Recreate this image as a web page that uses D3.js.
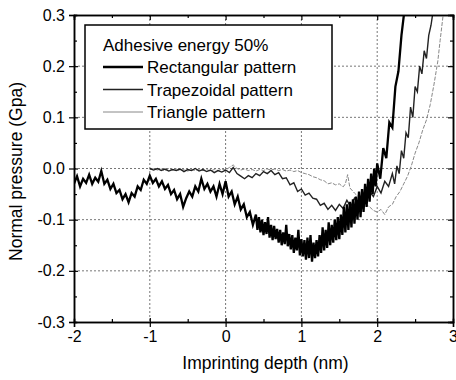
<!DOCTYPE html>
<html>
<head>
<meta charset="utf-8">
<script src="https://cdn.jsdelivr.net/npm/d3@7"></script>
<style>
body { margin: 0; background: #fff; }
svg { display: block; font-family: "Liberation Sans", Arial, sans-serif; }
</style>
</head>
<body>
<svg id="graph" width="456" height="380"></svg>
<script>
// values: [depth (nm), pressure (Gpa)]
var rectData = [
	[-2.00,-0.030],[-1.96,-0.015],[-1.92,-0.035],[-1.88,-0.020],[-1.84,-0.028],[-1.80,-0.012],
	[-1.76,-0.030],[-1.72,-0.018],[-1.68,-0.026],[-1.64,-0.005],[-1.60,-0.030],[-1.56,-0.022],
	[-1.52,-0.040],[-1.48,-0.030],[-1.44,-0.048],[-1.40,-0.042],[-1.36,-0.060],[-1.32,-0.050],
	[-1.28,-0.066],[-1.24,-0.048],[-1.20,-0.055],[-1.16,-0.035],[-1.12,-0.042],[-1.08,-0.022],
	[-1.04,-0.030],[-1.00,-0.014],[-0.96,-0.028],[-0.92,-0.020],[-0.88,-0.035],[-0.84,-0.025],
	[-0.80,-0.040],[-0.76,-0.032],[-0.72,-0.050],[-0.68,-0.042],[-0.64,-0.060],[-0.60,-0.050],
	[-0.56,-0.075],[-0.52,-0.058],[-0.48,-0.045],[-0.44,-0.055],[-0.40,-0.035],[-0.36,-0.045],
	[-0.32,-0.020],[-0.28,-0.040],[-0.24,-0.030],[-0.20,-0.045],[-0.16,-0.035],[-0.12,-0.055],
	[-0.08,-0.030],[-0.04,-0.050],[0.00,-0.025],[0.04,-0.055],[0.08,-0.045],[0.12,-0.070],
	[0.16,-0.055],[0.20,-0.080],[0.24,-0.070],[0.28,-0.095],[0.32,-0.085],[0.36,-0.110],
	[0.40,-0.090],[0.42,-0.120],[0.44,-0.095],[0.46,-0.125],[0.48,-0.100],[0.50,-0.130],
	[0.52,-0.105],[0.54,-0.128],[0.56,-0.095],[0.58,-0.135],[0.60,-0.110],[0.62,-0.140],
	[0.64,-0.112],[0.66,-0.138],[0.68,-0.118],[0.70,-0.145],[0.72,-0.120],[0.74,-0.150],
	[0.76,-0.125],[0.78,-0.148],[0.80,-0.110],[0.82,-0.152],[0.84,-0.128],[0.86,-0.158],
	[0.88,-0.130],[0.90,-0.165],[0.92,-0.135],[0.94,-0.160],[0.96,-0.120],[0.98,-0.170],
	[1.00,-0.138],[1.02,-0.172],[1.04,-0.140],[1.06,-0.178],[1.08,-0.135],[1.10,-0.175],
	[1.12,-0.130],[1.14,-0.182],[1.16,-0.145],[1.18,-0.175],[1.20,-0.140],[1.22,-0.172],
	[1.24,-0.130],[1.26,-0.165],[1.28,-0.115],[1.30,-0.160],[1.32,-0.120],[1.34,-0.155],
	[1.36,-0.105],[1.38,-0.150],[1.40,-0.110],[1.42,-0.145],[1.44,-0.100],[1.46,-0.140],
	[1.48,-0.095],[1.50,-0.138],[1.52,-0.090],[1.54,-0.130],[1.56,-0.075],[1.58,-0.125],
	[1.60,-0.070],[1.62,-0.120],[1.64,-0.065],[1.66,-0.115],[1.68,-0.060],[1.70,-0.108],
	[1.72,-0.055],[1.74,-0.100],[1.76,-0.045],[1.78,-0.095],[1.80,-0.040],[1.82,-0.085],
	[1.84,-0.030],[1.86,-0.075],[1.88,-0.020],[1.90,-0.065],[1.92,-0.010],[1.94,-0.050],
	[1.96,0.000],[1.98,-0.035],[2.00,0.010],[2.04,-0.020],[2.08,0.040],[2.12,0.020],
	[2.16,0.090],[2.20,0.080],[2.24,0.160],[2.28,0.190],[2.32,0.260],[2.36,0.310]
];

var trapData = [
	[-1.00,0.000],[-0.95,-0.003],[-0.90,0.000],[-0.85,-0.004],[-0.80,-0.001],[-0.75,-0.005],
	[-0.70,-0.002],[-0.65,-0.004],[-0.60,-0.001],[-0.55,-0.006],[-0.50,-0.002],[-0.45,-0.004],
	[-0.40,0.000],[-0.35,-0.005],[-0.30,-0.002],[-0.25,-0.006],[-0.20,-0.003],[-0.15,-0.008],
	[-0.10,-0.004],[-0.05,-0.007],[0.00,-0.003],[0.05,-0.008],[0.10,0.002],[0.15,-0.010],
	[0.20,-0.015],[0.25,-0.020],[0.30,-0.014],[0.35,-0.018],[0.40,-0.010],[0.45,-0.014],
	[0.50,-0.006],[0.55,-0.010],[0.60,-0.004],[0.65,-0.012],[0.70,-0.008],[0.75,-0.020],
	[0.80,-0.018],[0.85,-0.032],[0.90,-0.028],[0.95,-0.045],[1.00,-0.040],[1.05,-0.052],
	[1.10,-0.048],[1.15,-0.058],[1.20,-0.060],[1.25,-0.072],[1.30,-0.068],[1.35,-0.080],
	[1.40,-0.072],[1.45,-0.082],[1.50,-0.070],[1.55,-0.078],[1.60,-0.062],[1.65,-0.075],
	[1.70,-0.058],[1.75,-0.068],[1.80,-0.050],[1.85,-0.062],[1.90,-0.045],[1.95,-0.055],
	[2.00,-0.035],[2.05,-0.048],[2.10,-0.025],[2.15,-0.035],[2.20,-0.010],[2.23,-0.030],
	[2.26,0.005],[2.29,-0.010],[2.32,0.035],[2.35,0.020],[2.38,0.070],[2.41,0.060],
	[2.44,0.120],[2.47,0.100],[2.50,0.160],[2.53,0.150],[2.56,0.200],[2.59,0.185],
	[2.62,0.230],[2.65,0.215],[2.68,0.260],[2.71,0.280],[2.74,0.310]
];

var triData = [
	[-1.00,-0.002],[-0.95,0.000],[-0.90,-0.003],[-0.85,-0.001],[-0.80,-0.004],[-0.75,0.000],
	[-0.70,-0.003],[-0.65,-0.001],[-0.60,-0.004],[-0.55,-0.002],[-0.50,-0.005],[-0.45,-0.002],
	[-0.40,-0.004],[-0.35,-0.001],[-0.30,-0.004],[-0.25,-0.002],[-0.20,-0.005],[-0.15,-0.002],
	[-0.10,-0.004],[-0.05,-0.001],[0.00,-0.003],[0.05,0.002],[0.10,0.007],[0.15,0.000],
	[0.20,-0.003],[0.25,-0.001],[0.30,-0.004],[0.35,-0.002],[0.40,-0.005],[0.45,-0.002],
	[0.50,-0.004],[0.55,-0.001],[0.60,-0.003],[0.65,-0.001],[0.70,-0.004],[0.75,-0.002],
	[0.80,-0.005],[0.85,-0.003],[0.90,-0.006],[0.95,-0.004],[1.00,-0.008],[1.05,-0.010],
	[1.10,-0.012],[1.15,-0.016],[1.20,-0.018],[1.25,-0.022],[1.30,-0.024],[1.35,-0.030],
	[1.40,-0.028],[1.45,-0.032],[1.50,-0.030],[1.55,-0.036],[1.58,-0.030],[1.61,-0.012],
	[1.64,-0.038],[1.70,-0.048],[1.75,-0.055],[1.80,-0.062],[1.85,-0.070],[1.90,-0.075],
	[1.95,-0.082],[2.00,-0.085],[2.05,-0.080],[2.10,-0.090],[2.15,-0.075],[2.20,-0.070],
	[2.25,-0.055],[2.30,-0.045],[2.35,-0.030],[2.40,-0.015],[2.45,0.005],[2.50,0.030],
	[2.55,0.050],[2.60,0.075],[2.65,0.095],[2.70,0.125],[2.75,0.165],[2.80,0.210],
	[2.83,0.250],[2.87,0.300]
];

var xTicks = [-2, -1, 0, 1, 2, 3];
var xMinor = [-1.5, -0.5, 0.5, 1.5, 2.5];
var yTicks = [-0.3, -0.2, -0.1, 0.0, 0.1, 0.2, 0.3];
var yMinor = [-0.25, -0.15, -0.05, 0.05, 0.15, 0.25];
var seriesNames = ["Rectangular pattern", "Trapezoidal pattern", "Triangle pattern"];
var legendTitle = "Adhesive energy 50%";

function drawChart() {
	var graph = d3.select("#graph");
	var left = 74, right = 453, plotTop = 15, bottom = 322;

	var x = d3.scaleLinear()
		.domain([-2, 3])
		.range([left, right]);
	var y = d3.scaleLinear()
		.domain([-0.3, 0.3])
		.range([bottom, plotTop]);

	// dotted grid
	graph.append("g").selectAll("line")
		.data([-1, 0, 1, 2])
		.enter().append("line")
		.attr("x1", function(d) { return x(d); })
		.attr("x2", function(d) { return x(d); })
		.attr("y1", plotTop).attr("y2", bottom)
		.attr("stroke", "#777").attr("stroke-width", 1)
		.attr("stroke-dasharray", "2,2");
	graph.append("g").selectAll("line")
		.data([-0.2, -0.1, 0.0, 0.1, 0.2])
		.enter().append("line")
		.attr("y1", function(d) { return y(d); })
		.attr("y2", function(d) { return y(d); })
		.attr("x1", left).attr("x2", right)
		.attr("stroke", "#777").attr("stroke-width", 1)
		.attr("stroke-dasharray", "2,2");

	graph.append("clipPath").attr("id", "clip")
		.append("rect")
		.attr("x", left).attr("y", plotTop)
		.attr("width", right - left).attr("height", bottom - plotTop);

	var line = d3.line()
		.x(function(d) { return x(d[0]); })
		.y(function(d) { return y(d[1]); });

	var plots = graph.append("g").attr("clip-path", "url(#clip)");
	plots.append("path")
		.attr("d", line(triData))
		.attr("stroke", "#888").attr("stroke-width", 1)
		.attr("stroke-dasharray", "4,1.5")
		.attr("fill", "none");
	plots.append("path")
		.attr("d", line(trapData))
		.attr("stroke", "#222").attr("stroke-width", 1.4)
		.attr("fill", "none");
	plots.append("path")
		.attr("d", line(rectData))
		.attr("stroke", "#000").attr("stroke-width", 2.3)
		.attr("fill", "none");

	// plain hyphen minus like the original
	var fmtX = function(d) { return String(d3.format("d")(d)).replace("\u2212", "-"); };
	var fmtY = function(d) { return String(d3.format(".1f")(d)).replace("\u2212", "-"); };

	var axis;
	axis = d3.axisBottom(x).tickValues(xTicks).tickSize(5).tickPadding(4).tickFormat(fmtX);
	var gx = graph.append("g")
		.attr("transform", "translate(0," + bottom + ")")
		.call(axis);
	gx.selectAll(".tick line").attr("y1", -4);
	graph.append("g")
		.attr("transform", "translate(0," + bottom + ")")
		.call(d3.axisBottom(x).tickValues(xMinor).tickSize(-3).tickFormat(""));

	axis = d3.axisLeft(y).tickValues(yTicks).tickSize(5).tickPadding(4).tickFormat(fmtY);
	var gy = graph.append("g")
		.attr("transform", "translate(" + left + ",0)")
		.call(axis);
	gy.selectAll(".tick line").attr("x1", 4);
	graph.append("g")
		.attr("transform", "translate(" + left + ",0)")
		.call(d3.axisLeft(y).tickValues(yMinor).tickSize(-3).tickFormat(""));

	graph.append("g")
		.attr("transform", "translate(0," + plotTop + ")")
		.call(d3.axisTop(x).tickValues(xTicks).tickSize(-5).tickFormat(""));
	graph.append("g")
		.attr("transform", "translate(0," + plotTop + ")")
		.call(d3.axisTop(x).tickValues(xMinor).tickSize(-3).tickFormat(""));
	graph.append("g")
		.attr("transform", "translate(" + right + ",0)")
		.call(d3.axisRight(y).tickValues(yTicks).tickSize(-5).tickFormat(""));
	graph.append("g")
		.attr("transform", "translate(" + right + ",0)")
		.call(d3.axisRight(y).tickValues(yMinor).tickSize(-3).tickFormat(""));

	graph.selectAll(".domain").attr("stroke", "#000").attr("stroke-width", 1.5);
	graph.selectAll(".tick line").attr("stroke", "#000").attr("stroke-width", 1.2);
	graph.selectAll(".tick text")
		.attr("fill", "#000")
		.style("font-size", "16px")
		.style("font-family", "'Liberation Sans', Arial, sans-serif");

	// axis titles
	graph.append("text")
		.attr("x", (left + right) / 2 + 2)
		.attr("y", 369)
		.attr("text-anchor", "middle")
		.style("font-size", "17.5px")
		.text("Imprinting depth (nm)");
	graph.append("text")
		.attr("transform", "translate(22," + ((plotTop + bottom) / 2 + 3) + ") rotate(-90)")
		.attr("text-anchor", "middle")
		.style("font-size", "17.5px")
		.text("Normal pressure (Gpa)");

	// legend
	var legend = graph.append("g");
	legend.append("rect")
		.attr("x", 85).attr("y", 25)
		.attr("width", 247).attr("height", 104)
		.attr("fill", "#fff").attr("stroke", "#000").attr("stroke-width", 1.5);
	legend.append("text")
		.attr("x", 103).attr("y", 51)
		.style("font-size", "17px")
		.text(legendTitle);
	var legendStyles = [
		{ stroke: "#000", width: 2.3 },
		{ stroke: "#222", width: 1.4 },
		{ stroke: "#888", width: 1 }
	];
	seriesNames.forEach(function(name, i) {
		var ly = 67 + i * 22.5;
		legend.append("line")
			.attr("x1", 103).attr("x2", 143)
			.attr("y1", ly).attr("y2", ly)
			.attr("stroke", legendStyles[i].stroke)
			.attr("stroke-width", legendStyles[i].width);
		legend.append("text")
			.attr("x", 147).attr("y", ly + 6)
			.style("font-size", "17px")
			.text(name);
	});
}

drawChart();
</script>
</body>
</html>
